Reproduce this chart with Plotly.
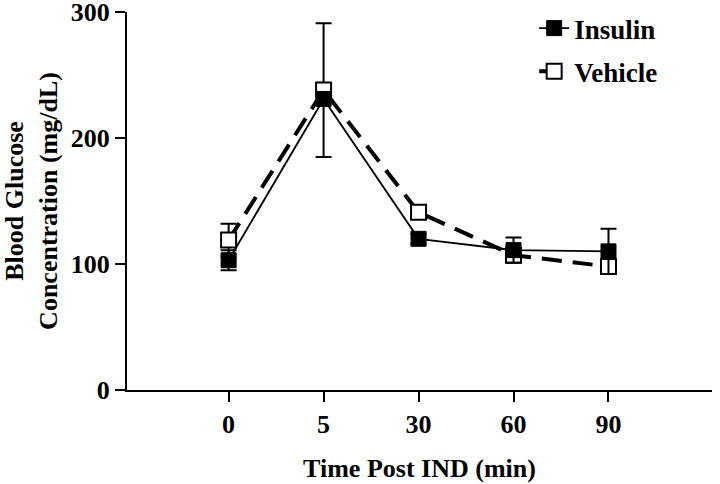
import plotly.graph_objects as go

time_labels = ["0", "5", "30", "60", "90"]
insulin_mean = [103, 231, 120, 111, 110]
insulin_err = [8, 4, 4, 10, 18]
vehicle_mean = [119, 238, 141, 107, 98]
vehicle_err = [13, 53, 5, 4, 4]

xpos = list(range(len(time_labels)))
FONT = "Liberation Serif, Times New Roman, serif"
FS = 26

fig = go.Figure()
fig.add_trace(go.Scatter(
    x=xpos, y=vehicle_mean, name="Vehicle", mode="lines+markers",
    legendgroup="v", legendrank=2,
    line=dict(color="black", width=4, dash="20px,11px"),
    marker=dict(symbol="square", size=15, color="white",
                line=dict(color="black", width=2)),
    error_y=dict(type="data", array=vehicle_err, color="black",
                 thickness=2, width=8),
))
fig.add_trace(go.Scatter(
    x=xpos, y=insulin_mean, name="Insulin", mode="lines+markers",
    legendgroup="i", legendrank=1,
    line=dict(color="black", width=1.8),
    marker=dict(symbol="square", size=15, color="black",
                line=dict(color="black", width=1)),
    error_y=dict(type="data", array=insulin_err, color="black",
                 thickness=2, width=8),
))

fig.update_layout(
    width=720, height=484,
    margin=dict(l=127, r=8, t=12, b=94, autoexpand=False),
    paper_bgcolor="white", plot_bgcolor="white",
    font=dict(family=FONT, size=FS, color="black"),
    legend=dict(x=0.696, y=1.021, xanchor="left", yanchor="top",
                font=dict(family=FONT, size=27, color="black", weight="bold"),
                tracegroupgap=5, bgcolor="rgba(0,0,0,0)"),
    showlegend=True,
)
fig.update_xaxes(
    range=[-1.07, 5.09], tickmode="array", tickvals=xpos, ticktext=time_labels,
    showline=True, linecolor="black", linewidth=2, showgrid=False, zeroline=False,
    ticks="outside", ticklen=10, tickwidth=2, tickcolor="black", automargin=False,
    ticklabeloverflow="allow",
    tickfont=dict(family=FONT, size=FS, color="black", weight="bold"),
    title=dict(text="Time Post IND (min)", standoff=21,
               font=dict(family=FONT, size=FS, color="black", weight="bold")),
)
fig.update_yaxes(
    range=[0, 300], tickmode="array", tickvals=[0, 100, 200, 300],
    showline=True, linecolor="black", linewidth=2, showgrid=False, zeroline=False,
    ticks="outside", ticklen=10, tickwidth=2, tickcolor="black", automargin=False,
    ticklabeloverflow="allow",
    tickfont=dict(family=FONT, size=FS, color="black", weight="bold"),
    title=dict(text="Blood Glucose<br>Concentration (mg/dL)", standoff=8,
               font=dict(family=FONT, size=FS, color="black", weight="bold")),
)

fig.write_html("out.html", config={"displayModeBar": False},
               post_script="document.body.style.margin='0';document.body.style.overflow='hidden';")
